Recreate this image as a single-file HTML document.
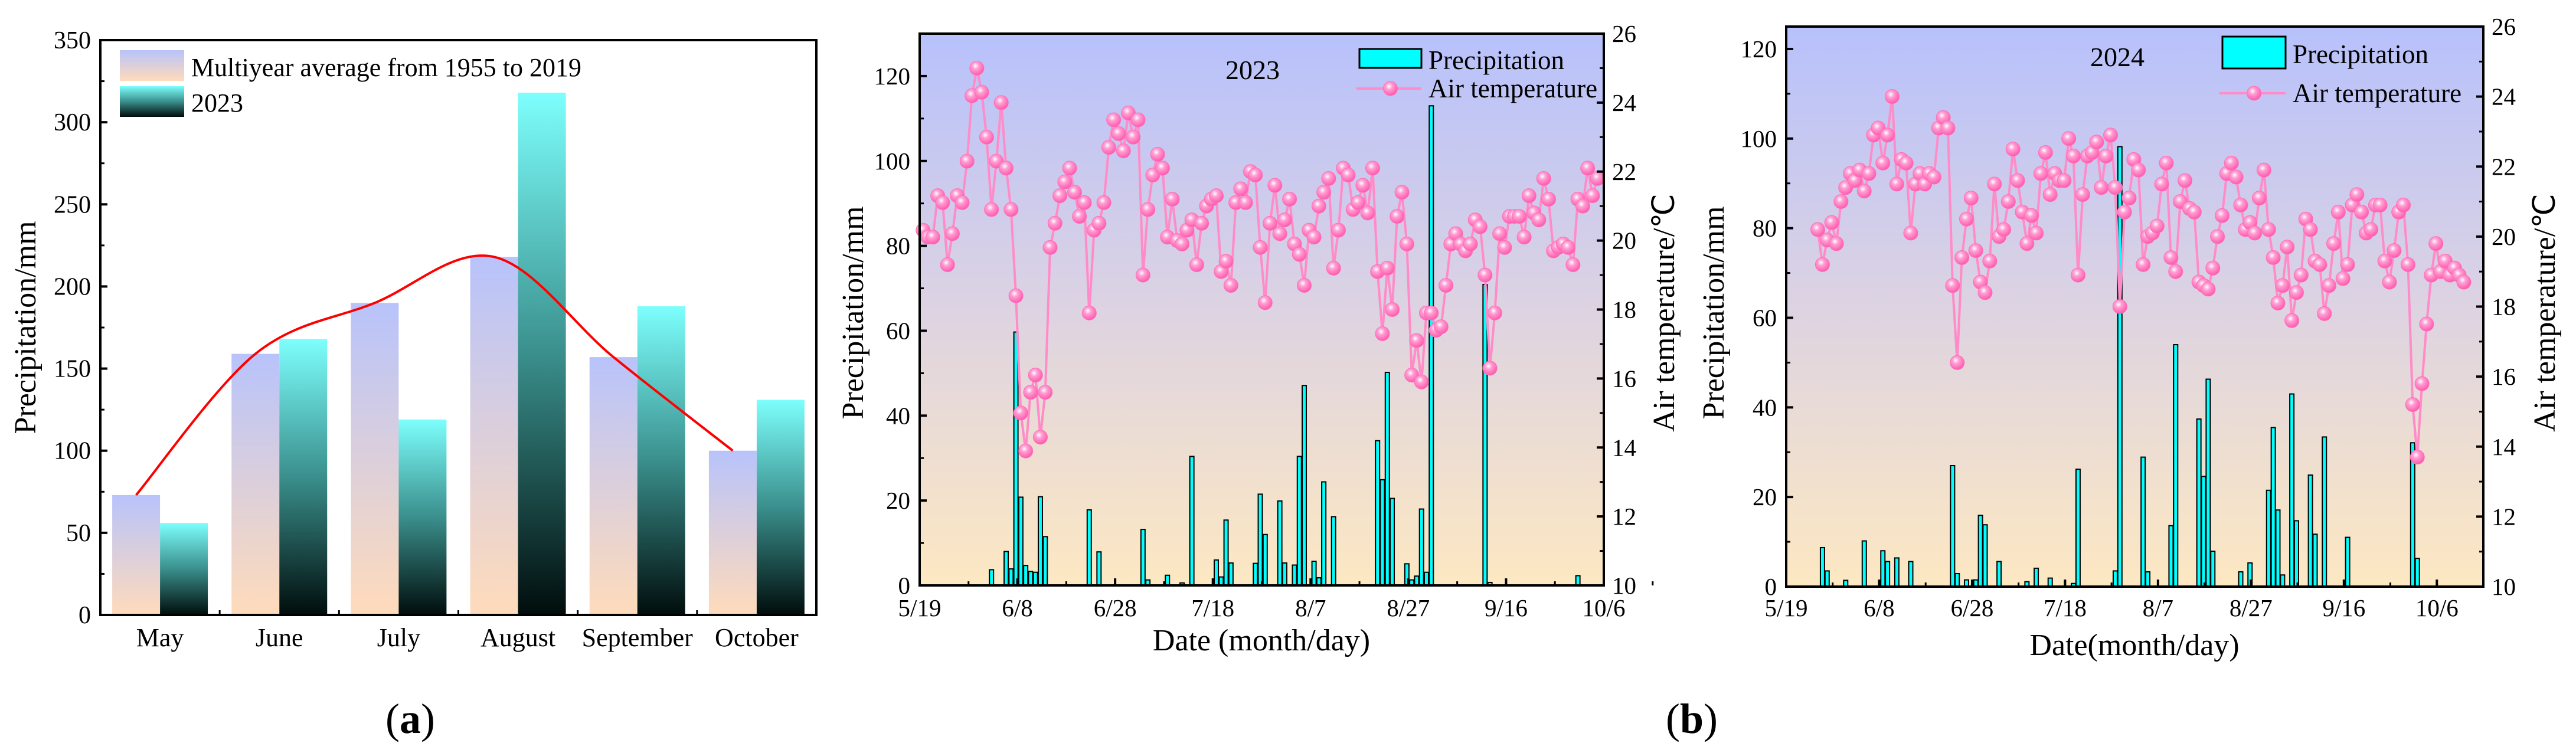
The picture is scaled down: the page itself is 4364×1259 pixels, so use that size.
<!DOCTYPE html>
<html><head><meta charset="utf-8"><style>
html,body{margin:0;padding:0;background:#fff;}
svg{display:block;font-family:"Liberation Serif",serif;}
</style></head><body>
<svg id="fig" width="4364" height="1259" viewBox="0 0 4364 1259" xmlns="http://www.w3.org/2000/svg">
<defs>
<linearGradient id="gAvg" x1="0" y1="0" x2="0" y2="1"><stop offset="0" stop-color="#b8c3fb"/><stop offset="1" stop-color="#ffdbbb"/></linearGradient>
<linearGradient id="g23" x1="0" y1="0" x2="0" y2="1"><stop offset="0" stop-color="#7dfffd"/><stop offset="0.5" stop-color="#3a8f8c"/><stop offset="1" stop-color="#000d0c"/></linearGradient>
<linearGradient id="gBg" x1="0" y1="0" x2="0" y2="1"><stop offset="0" stop-color="#b7c1fb"/><stop offset="0.5" stop-color="#ddd3e2"/><stop offset="1" stop-color="#fde8c2"/></linearGradient>
<radialGradient id="gDot" cx="0.4" cy="0.35" r="0.65"><stop offset="0" stop-color="#ffffff"/><stop offset="0.35" stop-color="#ff9fd3"/><stop offset="1" stop-color="#ff5aae"/></radialGradient>
</defs>
</svg>
<script>
// ---------- Panel (a) data ----------
const monthsA = ["May","June","July","August","September","October"];
const avgPrecip = [73,159,190,218,157,100];
const precip2023Month = [56,168,119,318,188,131];
const ticksA = [0,50,100,150,200,250,300,350];

// ---------- Panel (b) 2023 ----------
const temp2023 = [20.3,20.1,20.1,21.3,21.1,19.3,20.2,21.3,21.1,22.3,24.2,25.0,24.3,23.0,20.9,22.3,24.0,22.1,20.9,18.4,15.0,13.9,15.6,16.1,14.3,15.6,19.8,20.5,21.3,21.7,22.1,21.4,20.7,21.1,17.9,20.3,20.5,21.1,22.7,23.5,23.1,22.6,23.7,23.0,23.5,19.0,20.9,21.9,22.5,22.1,20.1,21.2,20.0,19.9,20.3,20.6,19.3,20.5,21.0,21.2,21.3,19.1,19.4,18.7,21.1,21.5,21.1,22.0,21.9,19.8,18.2,20.5,21.6,20.2,20.6,21.2,19.9,19.6,18.7,20.3,20.1,21.0,21.4,21.8,19.2,20.3,22.1,21.9,20.9,21.1,21.6,20.8,22.1,19.1,17.3,19.2,18.0,20.7,21.4,19.9,16.1,17.1,15.9,17.9,17.9,17.4,17.5,18.7,19.9,20.2,19.9,19.7,19.9,20.6,20.4,19.0,16.3,17.9,20.2,19.8,20.7,20.7,20.7,20.1,21.3,20.8,20.6,21.8,21.2,19.7,19.8,19.9,19.8,19.3,21.2,21.0,22.1,21.3,21.8];
const rainDays2023 = [14,17,18,19,20,21,22,23,24,25,34,36,45,46,50,53,55,60,61,62,63,68,69,70,73,74,76,77,78,80,81,82,84,93,94,95,96,99,100,101,102,103,104,115,116,134];
const rainVals2023 = [3.7,8.0,3.9,59.7,20.8,4.7,3.3,3.1,20.9,11.5,17.8,7.9,13.2,1.3,2.4,0.6,30.4,6.0,2.0,15.4,5.3,5.2,21.5,12.0,19.9,5.3,4.8,30.4,47.1,5.7,1.8,24.4,16.2,34.1,24.9,50.2,20.5,5.1,1.3,2.2,18.0,3.1,113.0,70.9,0.7,2.3];

// ---------- Panel (b) 2024 ----------
const temp2024 = [20.2,19.2,19.9,20.4,19.8,21.0,21.4,21.8,21.6,21.9,21.3,21.8,22.9,23.1,22.1,22.9,24.0,21.5,22.2,22.1,20.1,21.5,21.8,21.5,21.8,21.7,23.1,23.4,23.1,18.6,16.4,19.4,20.5,21.1,19.6,18.7,18.4,19.3,21.5,20.0,20.2,21.0,22.5,21.6,20.7,19.8,20.6,20.1,21.8,22.4,21.2,21.8,21.6,21.6,22.8,22.3,18.9,21.2,22.3,22.4,22.7,21.4,22.3,22.9,21.4,18.0,20.7,21.1,22.2,21.9,19.2,20.0,20.1,20.3,21.5,22.1,19.4,19.0,21.0,21.6,20.8,20.7,18.7,18.6,18.5,19.1,20.0,20.6,21.8,22.1,21.7,20.9,20.2,20.4,20.1,21.1,21.9,20.2,19.4,18.1,18.6,19.7,17.6,18.4,18.9,20.5,20.2,19.3,19.2,17.8,18.6,19.8,20.7,18.8,19.2,20.9,21.2,20.7,20.1,20.2,20.9,20.9,19.3,18.7,19.6,20.7,20.9,19.2,15.2,13.7,15.8,17.5,18.9,19.8,19.0,19.3,18.9,19.1,18.9,18.7];
const rainDays2024 = [8,9,13,17,21,22,24,27,36,37,39,41,42,43,46,52,54,57,62,63,71,72,77,78,83,84,89,90,91,92,98,100,104,105,106,107,109,110,113,114,116,121,135,136];
const rainVals2024 = [8.7,3.5,1.4,10.2,8.0,5.6,6.4,5.6,27.0,2.9,1.5,1.5,15.9,13.8,5.6,1.1,4.1,1.9,0.7,26.2,3.5,98.2,28.9,3.3,13.6,54.0,37.4,24.6,46.3,7.9,3.3,5.3,21.5,35.5,17.1,2.6,43.0,14.7,24.9,11.7,33.4,11.0,32.1,6.3];

const dateTicks = ["5/19","6/8","6/28","7/18","8/7","8/27","9/16","10/6"];
const precipTicksB = [0,20,40,60,80,100,120];
const tempTicksB = [10,12,14,16,18,20,22,24,26];

const NS = "http://www.w3.org/2000/svg";
const svg = document.getElementById("fig");
function mk(tag, attrs, parent){ const e=document.createElementNS(NS,tag); for(const k in attrs) e.setAttribute(k,attrs[k]); (parent||svg).appendChild(e); return e; }
function txt(s, attrs, parent){ const e=mk("text",attrs,parent); e.textContent=s; return e; }

// ================= Panel (a) =================
const A = {x0:170, x1:1383, y0:68, y1:1042, max:350};
const xa = i => A.x0 + (A.x1-A.x0)/monthsA.length*(i+0.5);
const ya = v => A.y1 - v/A.max*(A.y1-A.y0);
const gA = mk("g",{});


const bw = 81;
avgPrecip.forEach((v,i)=>{
  const r = mk("rect",{x:xa(i)-bw,y:ya(v),width:bw,height:ya(0)-ya(v),fill:"url(#gAvg)"},gA);
  
  
});
precip2023Month.forEach((v,i)=>{
  const r = mk("rect",{x:xa(i),y:ya(v),width:bw,height:ya(0)-ya(v),fill:"url(#g23)"},gA);
  
  
});
(function(){
  const pts = avgPrecip.map((v,i)=>[xa(i)-bw/2, ya(v)]);
  let d = "M"+pts[0][0]+","+pts[0][1];
  for(let i=0;i<pts.length-1;i++){
    const p0=pts[Math.max(0,i-1)], p1=pts[i], p2=pts[i+1], p3=pts[Math.min(pts.length-1,i+2)];
    const c1=[p1[0]+(p2[0]-p0[0])/6, p1[1]+(p2[1]-p0[1])/6];
    const c2=[p2[0]-(p3[0]-p1[0])/6, p2[1]-(p3[1]-p1[1])/6];
    d += " C"+c1[0]+","+c1[1]+" "+c2[0]+","+c2[1]+" "+p2[0]+","+p2[1];
  }
  const p = mk("path",{d:d,fill:"none",stroke:"#ff0000","stroke-width":4},gA);
  
  
})();
const frameA = mk("rect",{x:A.x0,y:A.y0,width:A.x1-A.x0,height:A.y1-A.y0,fill:"none",stroke:"#000","stroke-width":4},gA);


ticksA.forEach(t=>{
  mk("line",{x1:A.x0,x2:A.x0+12,y1:ya(t),y2:ya(t),stroke:"#000","stroke-width":4},gA);
  const l = txt(String(t),{x:A.x0-16,y:ya(t)+14,"font-size":42,"text-anchor":"end"},gA);
  
  
  if(t<350){ mk("line",{x1:A.x0,x2:A.x0+7,y1:ya(t+25),y2:ya(t+25),stroke:"#000","stroke-width":3},gA); }
});
monthsA.forEach((m,i)=>{
  mk("line",{x1:xa(i)+ (A.x1-A.x0)/12,x2:xa(i)+(A.x1-A.x0)/12,y1:A.y1,y2:A.y1-8,stroke:"#000","stroke-width":3},gA);
  const l = txt(m,{x:xa(i),y:1095,"font-size":44,"text-anchor":"middle"},gA);
  
  
});
const ytA = txt("Precipitation/mm",{x:0,y:0,"font-size":52,"text-anchor":"middle",transform:"translate(60,555) rotate(-90)"},gA);


const lgA = mk("g",{},gA);


mk("rect",{x:203,y:85,width:109,height:52,fill:"url(#gAvg)"},lgA);
mk("rect",{x:203,y:146,width:109,height:52,fill:"url(#g23)"},lgA);
const la1 = txt("Multiyear average from 1955 to 2019",{x:324,y:129,"font-size":44},lgA);


const la2 = txt("2023",{x:324,y:189,"font-size":44},lgA);


const capA = mk("text",{x:695,y:1242,"font-size":72,"text-anchor":"middle"});
capA.innerHTML = '(<tspan font-weight="bold">a</tspan>)';



// ================= Panel (b) builder =================
function panelB(cfg){
  const g = mk("g",{});
  
  
  const xb = d => cfg.x0 + d/cfg.days*(cfg.x1-cfg.x0);
  const yl = v => cfg.y1 - v/cfg.pmax*(cfg.y1-cfg.y0);
  const yr = t => cfg.y1 - (t-10)/16*(cfg.y1-cfg.y0);
  const bg = mk("rect",{x:cfg.x0,y:cfg.y0,width:cfg.x1-cfg.x0,height:cfg.y1-cfg.y0,fill:"url(#gBg)"},g);
  
  
  cfg.rainDays.forEach((d,i)=>{
    const v = cfg.rainVals[i];
    const r = mk("rect",{x:xb(d+cfg.off)-3.5,y:yl(v),width:7,height:yl(0)-yl(v),fill:"#00ffff",stroke:"#000","stroke-width":2},g);
    
    
  });
  const pts = cfg.temps.map((t,i)=>[xb(cfg.tStart+i), yr(t)]);
  const line = mk("polyline",{points:pts.map(p=>p.join(",")).join(" "),fill:"none",stroke:"#ff8cc8","stroke-width":4},g);
  
  
  pts.forEach(p=>{
    const c = mk("circle",{cx:p[0],cy:p[1],r:12,fill:"url(#gDot)",stroke:"#ff6fb8","stroke-width":1},g);
    
    
  });
  const fr = mk("rect",{x:cfg.x0,y:cfg.y0,width:cfg.x1-cfg.x0,height:cfg.y1-cfg.y0,fill:"none",stroke:"#000","stroke-width":4},g);
  
  
  precipTicksB.forEach(v=>{
    mk("line",{x1:cfg.x0,x2:cfg.x0+12,y1:yl(v),y2:yl(v),stroke:"#000","stroke-width":4},g);
    if(yl(v+10)>cfg.y0) mk("line",{x1:cfg.x0,x2:cfg.x0+7,y1:yl(v+10),y2:yl(v+10),stroke:"#000","stroke-width":3},g);
    const l = txt(String(v),{x:cfg.x0-16,y:yl(v)+14,"font-size":41,"text-anchor":"end"},g);
    
    
  });
  tempTicksB.forEach(t=>{
    mk("line",{x1:cfg.x1,x2:cfg.x1-12,y1:yr(t),y2:yr(t),stroke:"#000","stroke-width":4},g);
    if(t<26) mk("line",{x1:cfg.x1,x2:cfg.x1-7,y1:yr(t+1),y2:yr(t+1),stroke:"#000","stroke-width":3},g);
    const l = txt(String(t),{x:cfg.x1+14,y:yr(t)+14,"font-size":41},g);
    
    
  });
  dateTicks.forEach((s,i)=>{
    const d = i*20;
    mk("line",{x1:xb(d),x2:xb(d),y1:cfg.y1,y2:cfg.y1-12,stroke:"#000","stroke-width":4},g);
    mk("line",{x1:xb(d+10),x2:xb(d+10),y1:cfg.y1,y2:cfg.y1-7,stroke:"#000","stroke-width":3},g);
    const l = txt(s,{x:xb(d),y:1044,"font-size":41,"text-anchor":"middle"},g);
    
    
  });
  const xt = txt(cfg.xTitle,{x:cfg.xtX,y:cfg.xtY,"font-size":52,"text-anchor":"middle"},g);
  
  
  const yt = txt("Precipitation/mm",{x:0,y:0,"font-size":52,"text-anchor":"middle",transform:"translate("+cfg.ylX+",530) rotate(-90)"},g);
  
  
  const yt2 = txt("Air temperature/℃",{x:0,y:0,"font-size":52,"text-anchor":"middle",transform:"translate("+cfg.yrX+",530) rotate(-90)"},g);
  
  
  const yr_ = txt(cfg.year,{x:cfg.yearX,y:cfg.yearY+16,"font-size":46,"text-anchor":"middle"},g);
  
  
  const lg = mk("g",{},g);
  
  
  mk("rect",{x:cfg.lgX,y:cfg.sw[0],width:cfg.lgW,height:cfg.sw[1]-cfg.sw[0],fill:"#00ffff",stroke:"#000","stroke-width":3},lg);
  mk("line",{x1:cfg.lgX-5,x2:cfg.lgX+cfg.lgW,y1:cfg.r2,y2:cfg.r2,stroke:"#ff8cc8","stroke-width":4},lg);
  mk("circle",{cx:cfg.lgX+cfg.lgW/2,cy:cfg.r2,r:12,fill:"url(#gDot)",stroke:"#ff6fb8","stroke-width":1},lg);
  const e1 = txt("Precipitation",{x:cfg.lgX+cfg.lgW+12,y:cfg.r1+15,"font-size":45},lg);
  
  
  const e2 = txt("Air temperature",{x:cfg.lgX+cfg.lgW+12,y:cfg.r2+15,"font-size":45},lg);
  
  
}
panelB({name:"panel-b-2023-chart",x0:1558,x1:2717,y0:57,y1:992,days:140,pmax:130,off:0.7,tStart:0.7,
  temps:temp2023,rainDays:rainDays2023,rainVals:rainVals2023,xTitle:"Date (month/day)",xtX:2137,xtY:1102,
  ylX:1462,yrX:2836,year:"2023",yearX:2122,yearY:118,lgX:2303,lgW:105,sw:[83,115],r1:102,r2:150});
panelB({name:"panel-b-2024-chart",x0:3026,x1:4207,y0:45,y1:994,days:150,pmax:125,off:-0.2,tStart:6.8,
  temps:temp2024,rainDays:rainDays2024,rainVals:rainVals2024,xTitle:"Date(month/day)",xtX:3616,xtY:1110,
  ylX:2920,yrX:4328,year:"2024",yearX:3587,yearY:96,lgX:3765,lgW:107,sw:[62,116],r1:92,r2:158});
const capB = mk("text",{x:2866,y:1242,"font-size":72,"text-anchor":"middle"});
capB.innerHTML = '(<tspan font-weight="bold">b</tspan>)';


</script>
</body></html>
